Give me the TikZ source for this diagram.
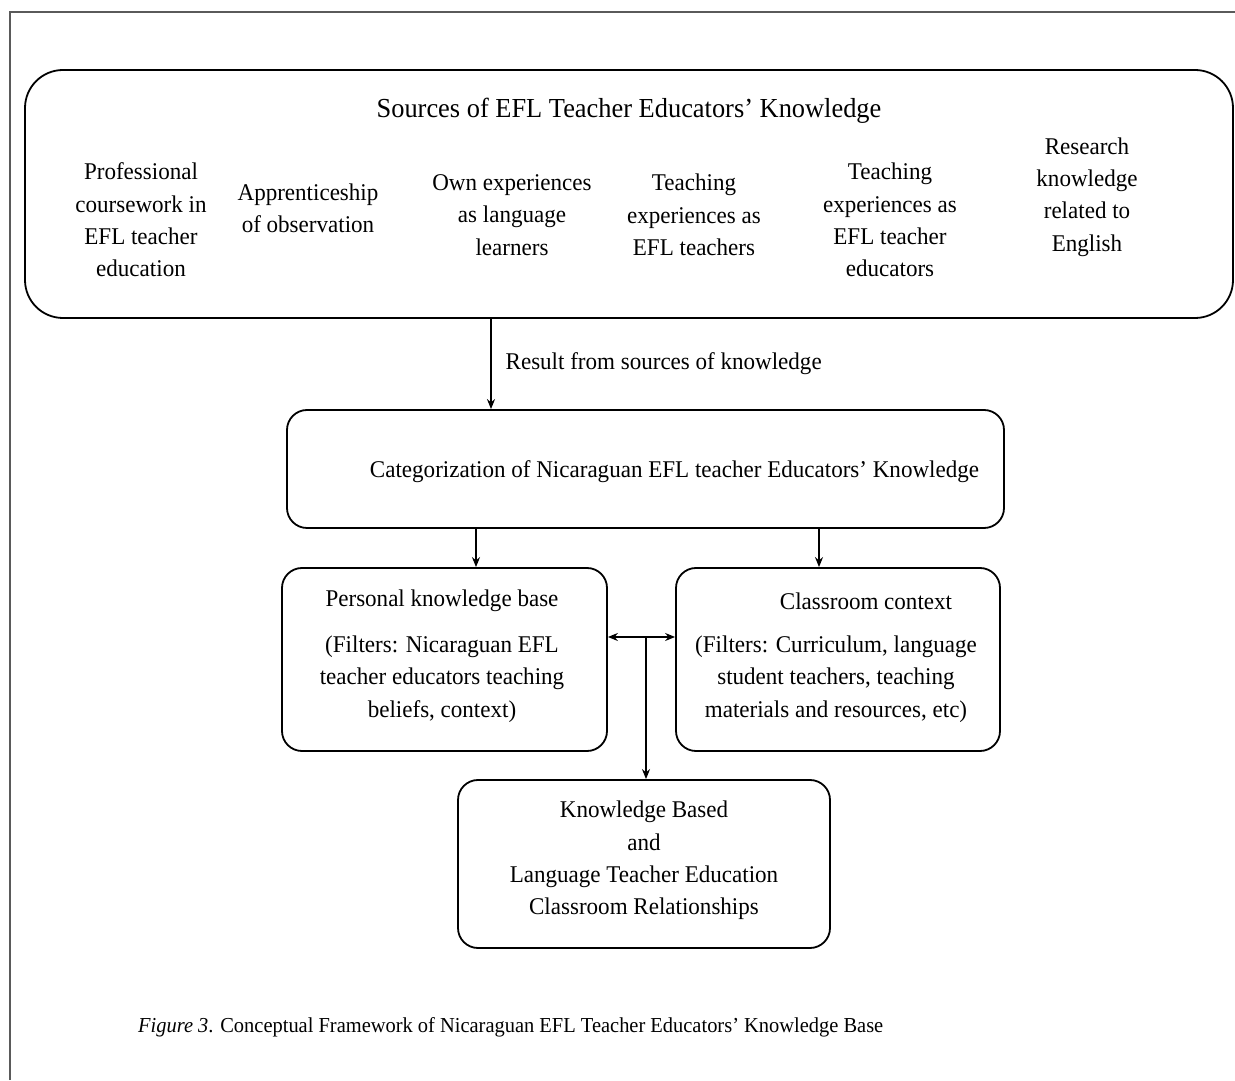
\documentclass[tikz,border=0pt]{standalone}
\usepackage{fontspec}
\setmainfont{Liberation Serif}[FakeStretch=0.96]
\usetikzlibrary{arrows.meta}
\tikzset{
  roundbox/.style={draw=drawColor,line width=1.8pt,rounded corners=#1,inner sep=0pt},
  roundbox/.default=20pt,
  boxtext/.style={text=drawColor,align=center,inner sep=0pt,font=\fontsize{24}{32.3}\selectfont},
  link/.style={draw=drawColor,line width=1.3pt,-{Stealth[length=10pt,width=8pt]}}
}
\begin{document}
\begin{tikzpicture}[x=1pt,y=1pt]
\definecolor{drawColor}{RGB}{0,0,0}
\definecolor{frameColor}{RGB}{90,90,90}
\path[use as bounding box,fill=white] (0,0) rectangle (1235,1080);

% outer frame
\path[draw=frameColor,line width=1.3pt] (10,0) -- (10,1068) -- (1235,1068);

% sources
\node[roundbox=38pt,minimum width=1208pt,minimum height=248pt] (src) at (629,886) {};
\node[boxtext,font=\fontsize{27.5}{33}\selectfont] (srctitle) at (629,969) {Sources of EFL Teacher Educators’ Knowledge};
\node[boxtext] (s1) at (141,860) {Professional\\coursework in\\EFL teacher\\education};
\node[boxtext] (s2) at (308,872) {Apprenticeship\\of observation};
\node[boxtext] (s3) at (512,865) {Own experiences\\as language\\learners};
\node[boxtext] (s4) at (694,865) {Teaching\\experiences as\\EFL teachers};
\node[boxtext] (s5) at (890,860) {Teaching\\experiences as\\EFL teacher\\educators};
\node[boxtext] (s6) at (1087,883) {Research\\knowledge\\related to\\English};

% categorization
\node[roundbox,minimum width=717pt,minimum height=118pt] (cat) at (645.5,611) {};
\node[boxtext] (cattext) at (674.5,608) {Categorization of Nicaraguan EFL teacher Educators’ Knowledge};
\draw[link] (src.south -| 491,0) -- (cat.north -| 491,0)
  node[boxtext,anchor=west,pos=0.5,xshift=14pt] (res) {Result from sources of knowledge};

% filters
\node[roundbox,minimum width=325pt,minimum height=183pt] (pers) at (444.5,420.5) {};
\node[boxtext] (perstitle) at (442,479) {Personal knowledge base};
\node[boxtext] (persfilt) at (442,401) {(Filters: Nicaraguan EFL\\teacher educators teaching\\beliefs, context)};
\node[roundbox,minimum width=324pt,minimum height=183pt] (room) at (838,420.5) {};
\node[boxtext] (roomtitle) at (866,479) {Classroom context};
\node[boxtext] (roomfilt) at (836,401) {(Filters: Curriculum, language\\student teachers, teaching\\materials and resources, etc)};
\draw[link] (cat.south -| 476,0) -- (pers.north -| 476,0);
\draw[link] (cat.south -| 819,0) -- (room.north -| 819,0);

% outcome
\node[roundbox,minimum width=372pt,minimum height=168pt] (know) at (644,216) {};
\node[boxtext] (knowtext) at (644,219.5) {Knowledge Based\\and\\Language Teacher Education\\Classroom Relationships};
\coordinate (mid) at (646,443);
\draw[link,{Stealth[length=10pt,width=8pt]}-{Stealth[length=10pt,width=8pt]}] (pers.east |- mid) -- (room.west |- mid);
\draw[link] (mid) -- (know.north -| mid);

% caption
\node[text=drawColor,anchor=base west,inner sep=0pt,font=\fontsize{21.3}{26}\selectfont] (cap) at (138,48)
  {\textit{Figure 3}. Conceptual Framework of Nicaraguan EFL Teacher Educators’ Knowledge Base};
\end{tikzpicture}
\end{document}
